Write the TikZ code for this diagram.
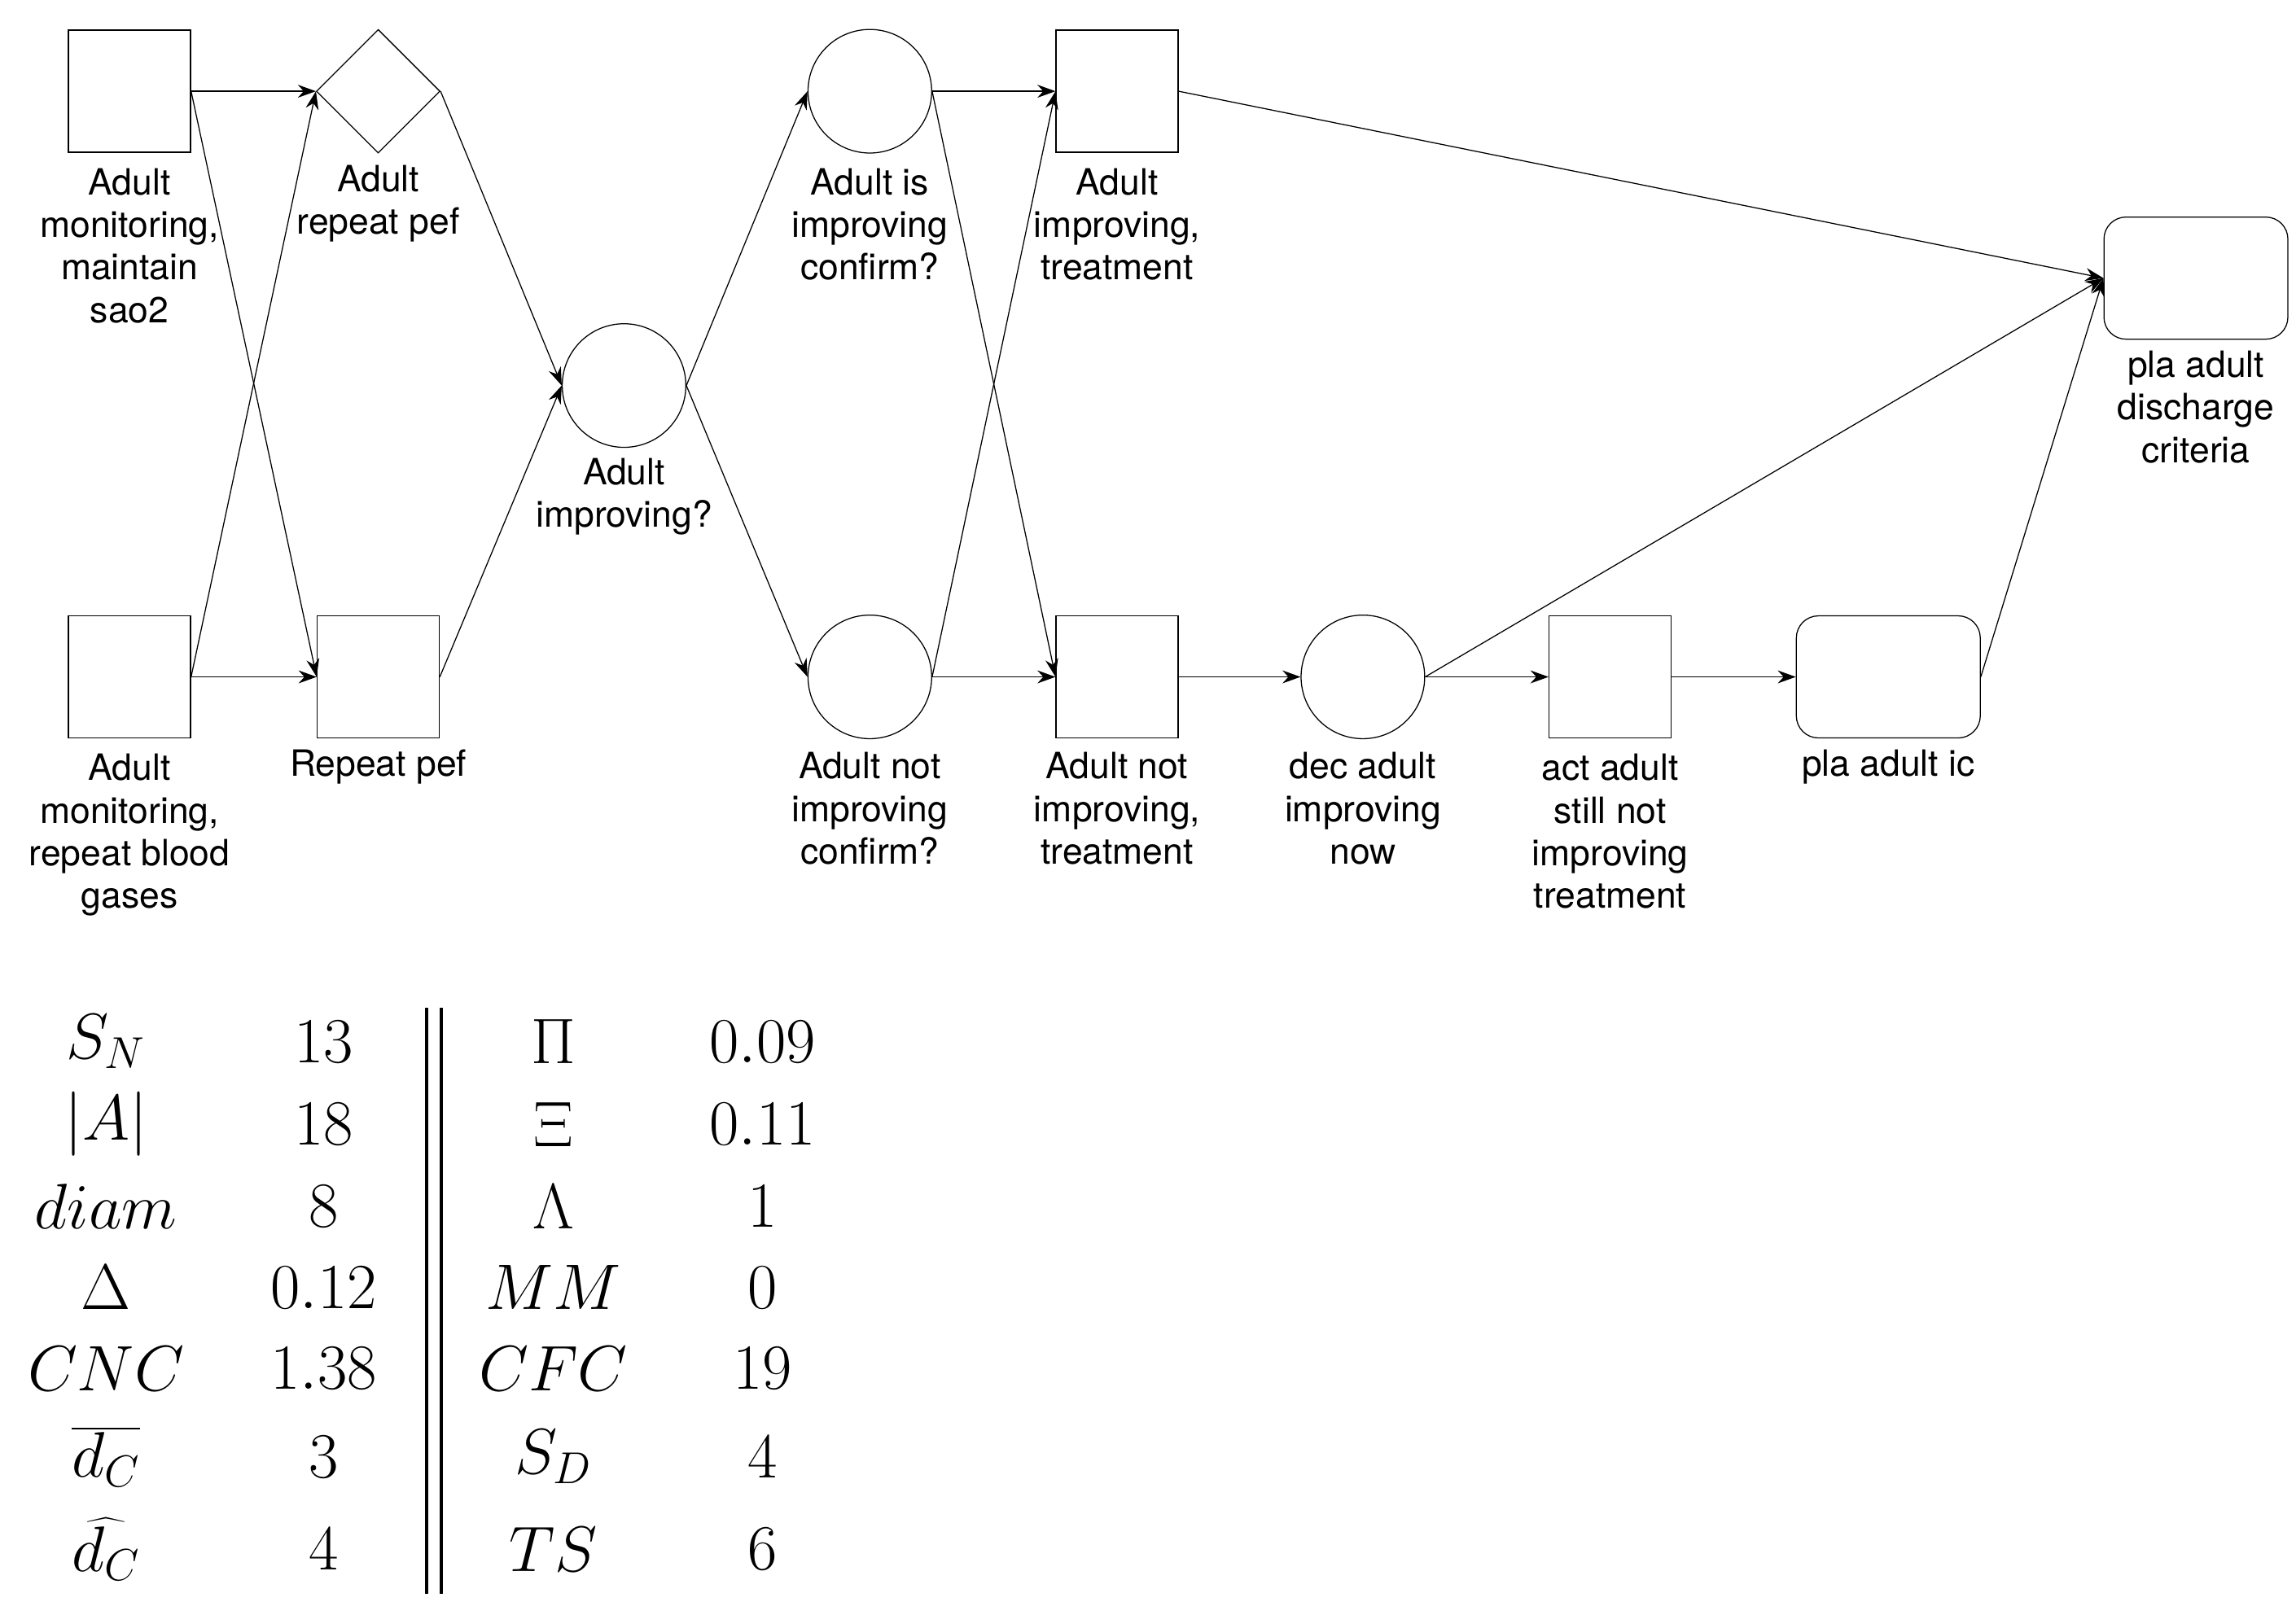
\documentclass[tikz,border=0pt]{standalone}
\usepackage{fontspec}
\setsansfont{TeX Gyre Heros}
\usetikzlibrary{shapes.geometric,arrows.meta}
\begin{document}
\begin{tikzpicture}[x=0.02cm,y=-0.02cm,
  sq/.style={draw,minimum size=1.66cm,inner sep=0},
  ci/.style={draw,circle,minimum size=1.68cm,inner sep=0},
  di/.style={draw,diamond,minimum size=1.68cm,inner sep=0},
  rr/.style={draw,rounded corners=0.3cm,minimum width=2.5cm,minimum height=1.66cm,inner sep=0},
  lab/.style={align=center,font=\sffamily\fontsize{14}{16.5}\selectfont,anchor=north,inner sep=0},
  e/.style={-{Stealth[length=7pt,width=5pt]},thin},
  m/.style={font=\fontsize{26}{30}\selectfont}]
\useasboundingbox (0,0) rectangle (1560,1097.5);
\node[sq] (a1) at (88,62) {};
\node[di] (d1) at (257,62) {};
\node[sq] (a2) at (88,460) {};
\node[sq] (r1) at (257,460) {};
\node[ci] (c1) at (424,262) {};
\node[ci] (c2) at (591,62) {};
\node[ci] (c3) at (591,460) {};
\node[sq] (t1) at (759,62) {};
\node[sq] (t2) at (759,460) {};
\node[ci] (c4) at (926,460) {};
\node[sq] (t3) at (1094,460) {};
\node[rr] (p2) at (1283,460) {};
\node[rr] (p3) at (1492,189) {};
\node[lab] at (88,114) {Adult\\monitoring,\\maintain\\sao2};
\node[lab] at (257,112) {Adult\\repeat pef};
\node[lab] at (88,512) {Adult\\monitoring,\\repeat blood\\gases};
\node[lab] at (257,509) {Repeat pef};
\node[lab] at (424,311) {Adult\\improving?};
\node[lab] at (591,114) {Adult is\\improving\\confirm?};
\node[lab] at (591,511) {Adult not\\improving\\confirm?};
\node[lab] at (759,114) {Adult\\improving,\\treatment};
\node[lab] at (759,511) {Adult not\\improving,\\treatment};
\node[lab] at (926,511) {dec adult\\improving\\now};
\node[lab] at (1094,512) {act adult\\still not\\improving\\treatment};
\node[lab] at (1283,509) {pla adult ic};
\node[lab] at (1492,238) {pla adult\\discharge\\criteria};
\foreach \a/\b in {a1/d1,a1/r1,a2/d1,a2/r1,d1/c1,r1/c1,c1/c2,c1/c3,c2/t1,c2/t2,c3/t1,c3/t2,t1/p3,t2/c4,c4/t3,c4/p3,t3/p2,p2/p3}
  \draw[e] (\a.east) -- (\b.west);
\foreach \y/\l/\v/\r/\w in {708/S_N/13/\Pi/0.09, 764/|A|/18/\Xi/0.11, 820/diam/8/\Lambda/1, 875/\Delta/0.12/MM/0, 930/CNC/1.38/CFC/19, 990/\overline{d_C}/3/S_D/4, 1053/\widehat{d_C}/4/TS/6}{
  \node[m] (l\y) at (72,\y) {$\l$};
  \node[m] (v\y) at (220,\y) {$\v$};
  \node[m] (s\y) at (376,\y) {$\r$};
  \node[m] (w\y) at (518,\y) {$\w$};}
\coordinate (b1) at (290,685); \coordinate (b2) at (290,1083);
\coordinate (b3) at (300,685); \coordinate (b4) at (300,1083);
\draw[line width=1.2pt] (b1) -- (b2) (b3) -- (b4);
\end{tikzpicture}
\end{document}
